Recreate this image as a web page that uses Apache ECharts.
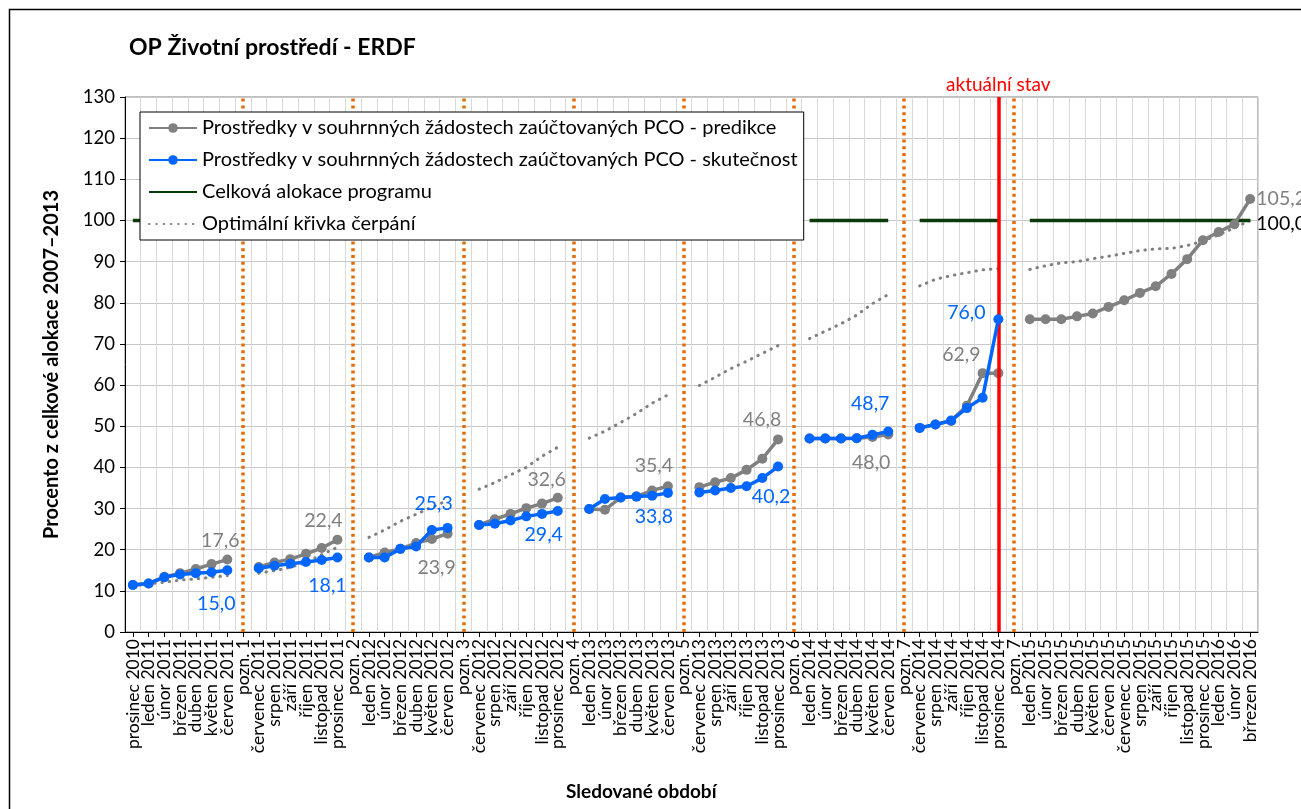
<!DOCTYPE html>
<html>
<head>
<meta charset="utf-8">
<script src="https://cdn.jsdelivr.net/npm/echarts@6/dist/echarts.min.js"></script>
<style>
html,body{margin:0;padding:0;background:#fff;}
#c{width:1301px;height:809px;}
</style>
</head>
<body>
<div id="c"></div>
<script>
const categories = [
 'prosinec 2010','leden 2011','únor 2011','březen 2011','duben 2011','květen 2011','červen 2011',
 'pozn. 1',
 'červenec 2011','srpen 2011','září 2011','říjen 2011','listopad 2011','prosinec 2011',
 'pozn. 2',
 'leden 2012','únor 2012','březen 2012','duben 2012','květen 2012','červen 2012',
 'pozn. 3',
 'červenec 2012','srpen 2012','září 2012','říjen 2012','listopad 2012','prosinec 2012',
 'pozn. 4',
 'leden 2013','únor 2013','březen 2013','duben 2013','květen 2013','červen 2013',
 'pozn. 5',
 'červenec 2013','srpen 2013','září 2013','říjen 2013','listopad 2013','prosinec 2013',
 'pozn. 6',
 'leden 2014','únor 2014','březen 2014','duben 2014','květen 2014','červen 2014',
 'pozn. 7',
 'červenec 2014','srpen 2014','září 2014','říjen 2014','listopad 2014','prosinec 2014',
 'pozn. 7',
 'leden 2015','únor 2015','březen 2015','duben 2015','květen 2015','červen 2015',
 'červenec 2015','srpen 2015','září 2015','říjen 2015','listopad 2015','prosinec 2015',
 'leden 2016','únor 2016','břrezen 2016'
];

const predikce = [
 11.4, 11.8, 13.4, 14.3, 15.3, 16.5, 17.6,
 null,
 15.8, 16.9, 17.7, 19.0, 20.4, 22.4,
 null,
 18.1, 19.3, 20.2, 21.6, 22.6, 23.9,
 null,
 26.0, 27.4, 28.7, 30.1, 31.2, 32.6,
 null,
 29.9, 29.7, 32.7, 32.9, 34.4, 35.4,
 null,
 35.2, 36.4, 37.4, 39.4, 42.1, 46.8,
 null,
 47.0, 47.0, 47.0, 47.1, 47.4, 48.0,
 null,
 49.6, 50.4, 51.3, 55.0, 62.9, 62.9,
 null,
 76.0, 76.0, 76.0, 76.7, 77.4, 79.0, 80.6, 82.4, 84.0, 87.0, 90.6, 95.2, 97.2, 99.1, 105.2
];

const skutecnost = [
 11.4, 11.8, 13.3, 14.0, 14.3, 14.5, 15.0,
 null,
 15.5, 16.1, 16.6, 17.0, 17.5, 18.1,
 null,
 18.1, 18.1, 20.2, 20.8, 24.8, 25.3,
 null,
 26.0, 26.3, 27.1, 28.1, 28.7, 29.4,
 null,
 29.9, 32.3, 32.7, 32.9, 33.1, 33.8,
 null,
 33.9, 34.4, 35.0, 35.4, 37.4, 40.2,
 null,
 47.0, 47.0, 47.0, 47.1, 47.9, 48.7,
 null,
 49.6, 50.4, 51.4, 54.4, 56.9, 76.0,
 null,
 null, null, null, null, null, null, null, null, null, null, null, null, null, null, null
];

const alokace = [
 100, 100, 100, 100, 100, 100, 100,
 null,
 100, 100, 100, 100, 100, 100,
 null,
 100, 100, 100, 100, 100, 100,
 null,
 100, 100, 100, 100, 100, 100,
 null,
 100, 100, 100, 100, 100, 100,
 null,
 100, 100, 100, 100, 100, 100,
 null,
 100, 100, 100, 100, 100, 100,
 null,
 100, 100, 100, 100, 100, 100,
 null,
 100, 100, 100, 100, 100, 100, 100, 100, 100, 100, 100, 100, 100, 100, 100
];

const optimal = [
 11.2, 11.7, 12.1, 12.6, 12.9, 13.3, 13.7,
 null,
 14.3, 14.9, 15.7, 16.9, 18.8, 20.6,
 null,
 23.0, 24.8, 26.9, 28.6, 30.3, 32.0,
 null,
 34.7, 36.3, 38.2, 40.0, 42.7, 44.9,
 null,
 47.1, 48.8, 50.9, 53.1, 55.6, 57.6,
 null,
 59.9, 61.9, 64.0, 65.8, 67.7, 69.6,
 null,
 71.3, 73.1, 74.9, 77.0, 79.8, 82.0,
 null,
 84.1, 85.7, 86.6, 87.3, 88.0, 88.3,
 null,
 88.1, 89.0, 89.7, 90.0, 90.7, 91.3, 92.0, 92.7, 93.1, 93.2, 93.9, 95.0, 96.5, 98.2, 100.0
];

const seriesNames = [
 'Prostředky v souhrnných žádostech zaúčtovaných PCO - predikce',
 'Prostředky v souhrnných žádostech zaúčtovaných PCO - skutečnost',
 'Celková alokace programu',
 'Optimální křivka čerpání'
];
const yTicks = {min: 0, max: 130, interval: 10};
const currentLabel = 'aktuální stav';
const currentIndex = 55;

// label placement (style): [dx, dy] from the point to the label centre
const predLabelPos = {6:[-7,-19], 13:[-14,-19], 20:[-11,34], 27:[-11,-18], 34:[-14,-21], 41:[-16,-20], 48:[-17,28], 55:[-37,-18], 71:[31,0]};
const skutLabelPos = {6:[-11,33], 13:[-10,28], 20:[-14,-24], 27:[-14,24], 34:[-14,24], 41:[-7,30], 48:[-18,-28], 55:[-32,-7]};
const alokLabelPos = {71:[31,3]};

const FONT = 'Lato';
const GRAY = '#808080', BLUE = '#0066FF', GREEN = '#0B3A0B', ORANGE = '#E46C0A';

function fmt(v){ return v.toFixed(1).replace('.', ','); }
function withLabels(values, pos, color){
  return values.map((v, i) => {
    if (pos[i] && v != null) {
      return {value: v, label: {show: true, position: 'inside', offset: pos[i], color: color,
        fontSize: 19.5, fontFamily: FONT, formatter: p => fmt(p.value)}};
    }
    return v;
  });
}

const poznMarks = categories.map((c, i) => c.indexOf('pozn.') === 0 ? {xAxis: i} : null).filter(Boolean);

const chart = echarts.init(document.getElementById('c'), null, {renderer: 'canvas'});
chart.setOption({
  animation: false,
  backgroundColor: '#fff',
  textStyle: {fontFamily: FONT},
  title: {
    text: 'OP Životní prostředí - ERDF', left: 124, top: 31,
    textStyle: {fontFamily: FONT, fontSize: 23, fontWeight: 'bold', color: '#000'}
  },
  graphic: [
    {type: 'rect', left: 7, top: 7, shape: {width: 1400, height: 900}, silent: true,
      style: {fill: 'none', stroke: '#000', lineWidth: 1.5}, z: -1},
    {type: 'text', left: 566, top: 782, silent: true,
      style: {text: 'Sledované období', fontFamily: FONT, fontSize: 19, fontWeight: 'bold', fill: '#000'}}
  ],
  legend: {
    orient: 'vertical', left: 140, top: 112,
    data: [
      {name: seriesNames[0]},
      {name: seriesNames[1]},
      {name: seriesNames[2], itemStyle: {opacity: 0}},
      {name: seriesNames[3], itemStyle: {opacity: 0}}
    ],
    backgroundColor: '#fff', borderColor: '#000', borderWidth: 1,
    padding: [6, 6, 6, 8], itemGap: 12, itemWidth: 48, itemHeight: 12,
    textStyle: {fontFamily: FONT, fontSize: 20, color: '#000'},
    z: 10
  },
  grid: {left: 125, top: 97, width: 1133, height: 535, show: true, borderColor: '#7f7f7f', borderWidth: 1, containLabel: false},
  xAxis: {
    type: 'category', data: categories, boundaryGap: true,
    axisLine: {lineStyle: {color: '#000', width: 1}},
    axisTick: {show: true, alignWithLabel: true, length: 5, lineStyle: {color: '#000'}},
    axisLabel: {interval: 0, rotate: 90, fontFamily: FONT, fontSize: 17.5, color: '#000', margin: 7},
    splitLine: {show: true, lineStyle: {color: '#D9D9D9', width: 1}}
  },
  yAxis: {
    type: 'value', min: yTicks.min, max: yTicks.max, interval: yTicks.interval,
    name: 'Procento z celkové alokace 2007–2013', nameLocation: 'middle', nameGap: 63,
    nameTextStyle: {fontFamily: FONT, fontSize: 20, fontWeight: 'bold', color: '#000'},
    axisLine: {show: true, lineStyle: {color: '#000', width: 1}},
    axisTick: {show: true, length: 5, lineStyle: {color: '#000'}},
    axisLabel: {fontFamily: FONT, fontSize: 18.5, color: '#000', margin: 10},
    splitLine: {show: true, lineStyle: {color: '#C8C8C8', width: 1}}
  },
  series: [
    {
      name: seriesNames[0], type: 'line', z: 3,
      data: withLabels(predikce, predLabelPos, GRAY),
      symbol: 'circle', symbolSize: 10,
      itemStyle: {color: GRAY}, lineStyle: {color: GRAY, width: 3.5},
      markLine: {
        silent: true, symbol: ['none', 'none'], z: 3,
        lineStyle: {color: ORANGE, width: 3.5, type: [3, 3.8]},
        label: {show: false},
        data: poznMarks
      }
    },
    {
      name: seriesNames[1], type: 'line', z: 5,
      data: withLabels(skutecnost, skutLabelPos, BLUE),
      symbol: 'circle', symbolSize: 10,
      itemStyle: {color: BLUE}, lineStyle: {color: BLUE, width: 3.5},
      markLine: {
        silent: true, symbol: ['none', 'none'], z: 4,
        lineStyle: {color: '#FF0000', width: 3.5, type: 'solid'},
        label: {show: true, position: 'end', formatter: currentLabel, color: '#FF0000', fontFamily: FONT, fontSize: 19, distance: 3},
        data: [{xAxis: currentIndex}]
      }
    },
    {
      name: seriesNames[2], type: 'line', z: 2,
      data: withLabels(alokace, alokLabelPos, '#000'),
      symbol: 'circle', symbolSize: 0.01, showSymbol: true,
      itemStyle: {color: GREEN}, lineStyle: {color: GREEN, width: 3.5}
    },
    {
      name: seriesNames[3], type: 'line', z: 1,
      data: optimal, symbol: 'none',
      itemStyle: {color: GRAY}, lineStyle: {color: GRAY, width: 3, type: [0.5, 6.8], cap: 'round'}
    }
  ]
});
</script>
</body>
</html>
